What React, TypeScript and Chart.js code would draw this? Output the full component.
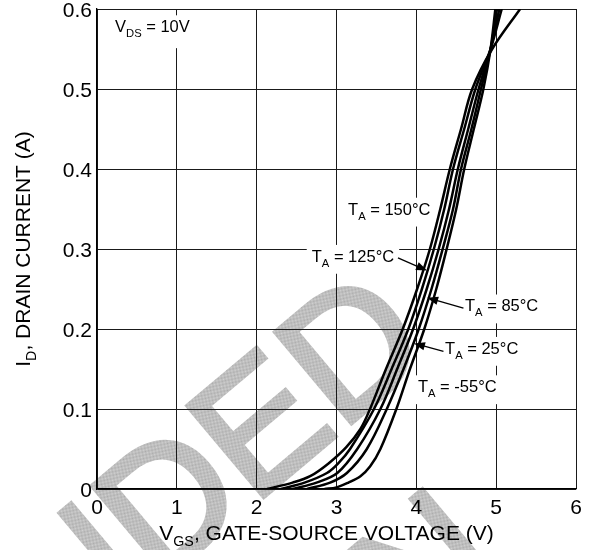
import React, { useEffect, useRef } from "react";
import { Chart, registerables } from "chart.js";

Chart.register(...registerables);

const FONT = '"Liberation Sans", Arial, Helvetica, sans-serif';

// Transfer characteristics: gate-source voltage (V) vs drain current (A)
const tempLabels = ["150°C", "125°C", "85°C", "25°C", "-55°C"];

const vgs150 = [2.13, 2.45, 2.67, 2.9, 3.12, 3.3, 3.42, 3.62, 3.83, 4.01, 4.17, 4.3, 4.42, 4.56, 4.7, 4.95, 5.3];
const id150 = [0, 0.008, 0.016, 0.032, 0.052, 0.075, 0.1, 0.15, 0.2, 0.25, 0.3, 0.35, 0.4, 0.45, 0.5, 0.55, 0.6];

const vgs125 = [2.3, 2.6, 2.88, 3.03, 3.17, 3.47, 3.69, 3.9, 4.07, 4.22, 4.35, 4.46, 4.6, 4.74, 4.93, 5.07];
const id125 = [0, 0.008, 0.02, 0.033, 0.05, 0.1, 0.15, 0.2, 0.25, 0.3, 0.35, 0.4, 0.45, 0.5, 0.55, 0.6];

const vgs85 = [2.45, 2.75, 3.01, 3.26, 3.55, 3.76, 3.96, 4.13, 4.28, 4.41, 4.52, 4.65, 4.78, 4.93, 5.04];
const id85 = [0, 0.008, 0.02, 0.05, 0.1, 0.15, 0.2, 0.25, 0.3, 0.35, 0.4, 0.45, 0.5, 0.55, 0.6];

const vgs25 = [2.63, 2.92, 3.13, 3.38, 3.63, 3.84, 4.03, 4.19, 4.33, 4.46, 4.56, 4.69, 4.81, 4.93, 5.01];
const id25 = [0, 0.008, 0.02, 0.05, 0.1, 0.15, 0.2, 0.25, 0.3, 0.35, 0.4, 0.45, 0.5, 0.55, 0.6];

const vgsM55 = [2.85, 3.0, 3.15, 3.3, 3.42, 3.55, 3.75, 3.92, 4.1, 4.25, 4.38, 4.5, 4.6, 4.72, 4.84, 4.93, 4.99];
const idM55 = [0, 0.002, 0.008, 0.016, 0.028, 0.05, 0.1, 0.15, 0.2, 0.25, 0.3, 0.35, 0.4, 0.45, 0.5, 0.55, 0.6];

const seriesVgs = [vgs150, vgs125, vgs85, vgs25, vgsM55];
const seriesId = [id150, id125, id85, id25, idM55];

// Axis ranges and ticks
const xMin = 0;
const xMax = 6;
const xStep = 1;
const yMin = 0;
const yMax = 0.6;
const yStep = 0.1;

// Temperature callouts: text baseline position and optional leader arrow (data units)
const labelVgs = [3.145, 2.69, 4.61, 4.36, 4.02];
const labelId = [0.343, 0.284, 0.222, 0.169, 0.121];
const arrowFromVgs = [NaN, 3.77, 4.59, 4.34, NaN];
const arrowFromId = [NaN, 0.289, 0.226, 0.172, NaN];
const arrowToVgs = [NaN, 4.135, 4.135, 3.97, NaN];
const arrowToId = [NaN, 0.273, 0.239, 0.182, NaN];

// Test condition note
const conditionVgs = 0.226;
const conditionId = 0.571;

const watermarkLines = ["NOT RECOMMENDED", "FOR NEW DESIGN"];

type Part = [string, boolean];

function partsWidth(ctx: CanvasRenderingContext2D, parts: Part[], size: number) {
  let w = 0;
  for (const [t, sub] of parts) {
    ctx.font = `${sub ? size * 0.68 : size}px ${FONT}`;
    w += ctx.measureText(t).width;
  }
  return w;
}

function drawParts(ctx: CanvasRenderingContext2D, parts: Part[], x: number, y: number, size: number) {
  let cx = x;
  ctx.textAlign = "left";
  ctx.textBaseline = "alphabetic";
  for (const [t, sub] of parts) {
    ctx.font = `${sub ? size * 0.68 : size}px ${FONT}`;
    ctx.fillText(t, cx, sub ? y + size * 0.3 : y);
    cx += ctx.measureText(t).width;
  }
  return cx - x;
}

const LABEL_SIZE = 16.5;

function calloutParts(i: number): Part[] {
  return [["T", false], ["A", true], [" = " + tempLabels[i], false]];
}

const conditionParts: Part[] = [["V", false], ["DS", true], [" = 10V", false]];

function makeHatch(ctx: CanvasRenderingContext2D) {
  const c = document.createElement("canvas");
  c.width = 4;
  c.height = 4;
  const g = c.getContext("2d")!;
  for (let y = 0; y < 4; y++) {
    for (let x = 0; x < 4; x++) {
      g.fillStyle = (x + y) % 2 === 0 ? "#ababab" : "#d2d2d2";
      g.fillRect(x, y, 1, 1);
    }
  }
  return ctx.createPattern(c, "repeat");
}

function boxFor(ctx: CanvasRenderingContext2D, parts: Part[], x: number, y: number) {
  const w = partsWidth(ctx, parts, LABEL_SIZE);
  const cap = LABEL_SIZE * 0.72;
  return { x: x - 5, y: y - cap - 5, w: w + 10, h: cap + 5 + LABEL_SIZE * 0.3 + 7 };
}

function drawArrow(ctx: CanvasRenderingContext2D, x0: number, y0: number, x1: number, y1: number) {
  const ang = Math.atan2(y1 - y0, x1 - x0);
  const len = 11;
  const half = 4.2;
  ctx.strokeStyle = "#000";
  ctx.lineWidth = 1.3;
  ctx.beginPath();
  ctx.moveTo(x0, y0);
  ctx.lineTo(x1 - Math.cos(ang) * len * 0.8, y1 - Math.sin(ang) * len * 0.8);
  ctx.stroke();
  ctx.fillStyle = "#000";
  ctx.beginPath();
  ctx.moveTo(x1, y1);
  ctx.lineTo(x1 - Math.cos(ang) * len - Math.sin(ang) * half, y1 - Math.sin(ang) * len + Math.cos(ang) * half);
  ctx.lineTo(x1 - Math.cos(ang) * len + Math.sin(ang) * half, y1 - Math.sin(ang) * len - Math.cos(ang) * half);
  ctx.closePath();
  ctx.fill();
}

const sheetPlugin = {
  id: "sheetDecor",
  beforeDraw(chart: Chart) {
    const ctx = chart.ctx;
    ctx.save();
    const pat = makeHatch(ctx);
    ctx.fillStyle = pat || "#c0c0c0";
    ctx.strokeStyle = pat || "#c0c0c0";
    ctx.lineWidth = 5;
    ctx.lineJoin = "miter";
    ctx.translate(436, 352);
    ctx.rotate((-40 * Math.PI) / 180);
    ctx.font = `172px ${FONT}`;
    ctx.textAlign = "right";
    ctx.textBaseline = "alphabetic";
    ctx.fillText(watermarkLines[0], 0, 0);
    ctx.strokeText(watermarkLines[0], 0, 0);
    ctx.fillText(watermarkLines[1], -85, 215);
    ctx.strokeText(watermarkLines[1], -85, 215);
    ctx.restore();
  },
  beforeDatasetsDraw(chart: Chart) {
    const ctx = chart.ctx;
    const xs = chart.scales.x;
    const ys = chart.scales.y;
    ctx.save();
    for (let i = 0; i < tempLabels.length; i++) {
      const b = boxFor(ctx, calloutParts(i), xs.getPixelForValue(labelVgs[i]), ys.getPixelForValue(labelId[i]));
      ctx.fillStyle = "#fff";
      ctx.fillRect(b.x, b.y, b.w, b.h);
    }
    const cb = boxFor(ctx, conditionParts, xs.getPixelForValue(conditionVgs), ys.getPixelForValue(conditionId));
    ctx.fillStyle = "#fff";
    ctx.fillRect(cb.x - 6, cb.y, cb.w + 12, cb.h + 4);
    ctx.restore();
  },
  afterDatasetsDraw(chart: Chart) {
    const ctx = chart.ctx;
    const xs = chart.scales.x;
    const ys = chart.scales.y;
    const area = chart.chartArea;
    ctx.save();
    for (let i = 0; i < tempLabels.length; i++) {
      ctx.fillStyle = "#000";
      drawParts(ctx, calloutParts(i), xs.getPixelForValue(labelVgs[i]), ys.getPixelForValue(labelId[i]), LABEL_SIZE);
      if (!isNaN(arrowFromVgs[i])) {
        drawArrow(
          ctx,
          xs.getPixelForValue(arrowFromVgs[i]),
          ys.getPixelForValue(arrowFromId[i]),
          xs.getPixelForValue(arrowToVgs[i]),
          ys.getPixelForValue(arrowToId[i])
        );
      }
    }
    ctx.fillStyle = "#000";
    drawParts(ctx, conditionParts, xs.getPixelForValue(conditionVgs), ys.getPixelForValue(conditionId), LABEL_SIZE);

    // axis titles
    const T = 21;
    const xTitle: Part[] = [["V", false], ["GS", true], [", GATE-SOURCE VOLTAGE (V)", false]];
    const xw = partsWidth(ctx, xTitle, T);
    ctx.fillStyle = "#000";
    drawParts(ctx, xTitle, (area.left + area.right) / 2 - 10 - xw / 2, 540, T);

    const yTitle: Part[] = [["I", false], ["D", true], [", DRAIN CURRENT (A)", false]];
    const yw = partsWidth(ctx, yTitle, T);
    ctx.translate(30, (area.top + area.bottom) / 2);
    ctx.rotate(-Math.PI / 2);
    drawParts(ctx, yTitle, -yw / 2, 0, T);
    ctx.restore();
  },
};

export default function App() {
  const ref = useRef<HTMLCanvasElement | null>(null);

  useEffect(() => {
    const canvas = ref.current;
    if (!canvas) return;
    const datasets = seriesVgs.map((vs, k) => ({
      label: tempLabels[k],
      data: vs.map((v, j) => ({ x: v, y: seriesId[k][j] })),
      showLine: true,
      borderColor: "#000",
      borderWidth: 2.5,
      pointRadius: 0,
      tension: 0.35,
      fill: false,
    }));

    const chart = new Chart(canvas, {
      type: "scatter",
      data: { datasets },
      options: {
        animation: false,
        responsive: false,
        devicePixelRatio: 1,
        layout: { padding: { left: 0, top: 9, right: 19, bottom: 0 } },
        plugins: {
          legend: { display: false },
          tooltip: { enabled: false },
          title: { display: false },
        },
        scales: {
          x: {
            type: "linear",
            min: xMin,
            max: xMax,
            ticks: {
              stepSize: xStep,
              autoSkip: false,
              color: "#000",
              font: { family: FONT, size: 21 },
              padding: 7,
              maxRotation: 0,
            },
            grid: { color: "#1a1a1a", lineWidth: 1, drawTicks: false },
            border: { display: true, color: "#000", width: 1.3 },
            afterFit: (s: any) => {
              s.height = 61;
              s.paddingLeft = 0;
              s.paddingRight = 0;
            },
          },
          y: {
            type: "linear",
            min: yMin,
            max: yMax,
            ticks: {
              stepSize: yStep,
              autoSkip: false,
              color: "#000",
              font: { family: FONT, size: 21 },
              padding: 5,
              labelOffset: 2,
              callback: (v: any) => (Math.abs(v) < 1e-9 ? "0" : Number(v).toFixed(1)),
            },
            grid: { color: "#1a1a1a", lineWidth: 1, drawTicks: false },
            border: { display: true, color: "#000", width: 1.3 },
            afterFit: (s: any) => {
              s.width = 97;
              s.paddingTop = 0;
              s.paddingBottom = 0;
            },
          },
        },
      },
      plugins: [sheetPlugin],
    } as any);

    return () => chart.destroy();
  }, []);

  return (
    <div style={{ position: "fixed", left: 0, top: 0, width: 595, height: 550, background: "#fff" }}>
      <canvas ref={ref} width={595} height={550} style={{ display: "block" }} />
    </div>
  );
}
